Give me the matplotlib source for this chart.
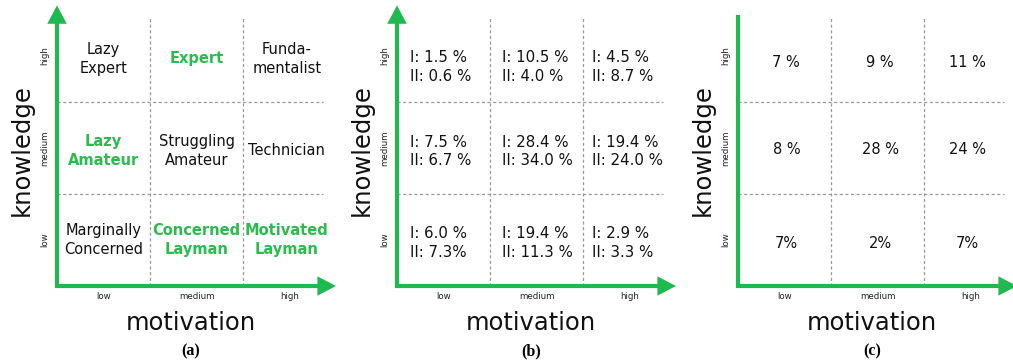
import matplotlib
matplotlib.use("Agg")
import matplotlib.pyplot as plt
from matplotlib.patches import Polygon

# levels on both axes
levels = ["low", "medium", "high"]

# (a) archetype names, rows low -> high knowledge, columns low -> high motivation
type_names = [
    ["Marginally\nConcerned", "Concerned\nLayman", "Motivated\nLayman"],
    ["Lazy\nAmateur", "Struggling\nAmateur", "Technician"],
    ["Lazy\nExpert", "Expert", "Funda-\nmentalist"],
]
type_highlight = [
    [False, True, True],
    [True, False, False],
    [False, True, False],
]

# (b) shares for study I and study II
share_I = [
    ["6.0 %", "19.4 %", "2.9 %"],
    ["7.5 %", "28.4 %", "19.4 %"],
    ["1.5 %", "10.5 %", "4.5 %"],
]
share_II = [
    ["7.3%", "11.3 %", "3.3 %"],
    ["6.7 %", "34.0 %", "24.0 %"],
    ["0.6 %", "4.0 %", "8.7 %"],
]

# (c) shares
share_c = [
    ["7%", "2%", "7%"],
    ["8 %", "28 %", "24 %"],
    ["7 %", "9 %", "11 %"],
]

GREEN = "#1fba4f"
TXT_GREEN = "#2bbb4e"
GRID = "#9a9a9a"

W, H = 1013, 364
fig = plt.figure(figsize=(W / 100, H / 100), dpi=100)


def make_axes(x0):
    # x0: pixel column of the knowledge axis; 93 px per cell across, 92 px up
    ax = fig.add_axes([x0 / W, (H - 286) / H, 279 / W, 276 / H])
    ax.set_xlim(0, 3)
    ax.set_ylim(0, 3)
    ax.axis("off")
    return ax


def draw_frame(ax, y_head=True, caption=""):
    for v in (1, 2):
        ax.plot([v, v], [0, 2.92], color=GRID, lw=0.9, ls=(0, (2.5, 2)),
                clip_on=False, zorder=1)
        ax.plot([0, 2.86], [v, v], color=GRID, lw=0.9, ls=(0, (2.5, 2)),
                clip_on=False, zorder=1)

    # motivation arrow
    ax.plot([-0.02, 2.85], [0, 0], color=GREEN, lw=3, solid_capstyle="butt",
            clip_on=False, zorder=3)
    ax.add_patch(Polygon([[2.8, 0.105], [3.0, 0], [2.8, -0.105]], closed=True,
                         fc=GREEN, ec="none", clip_on=False, zorder=3))
    # knowledge arrow
    if y_head:
        ax.plot([0, 0], [-0.02, 2.9], color=GREEN, lw=3, solid_capstyle="butt",
                clip_on=False, zorder=3)
        ax.add_patch(Polygon([[-0.105, 2.85], [0, 3.05], [0.105, 2.85]], closed=True,
                             fc=GREEN, ec="none", clip_on=False, zorder=3))
    else:
        ax.plot([0, 0], [-0.02, 2.95], color=GREEN, lw=3, solid_capstyle="butt",
                clip_on=False, zorder=3)

    for i, lev in enumerate(levels):
        ax.text(i + 0.5, -0.11, lev, ha="center", va="center", fontsize=6.2,
                color="#222222", clip_on=False)
        ax.text(-0.13, i + 0.5, lev, ha="center", va="center", fontsize=6.2,
                rotation=90, color="#222222", clip_on=False)

    ax.text(-0.38, 1.48, "knowledge", rotation=90, ha="center", va="center",
            fontsize=17.5, color="#111111", clip_on=False)
    ax.text(1.44, -0.4, "motivation", ha="center", va="center",
            fontsize=17.5, color="#111111", clip_on=False)
    ax.text(1.44, -0.71, caption, ha="center", va="center", fontsize=11.5,
            family="Liberation Serif", fontweight="bold", clip_on=False)


# (a) archetypes
ax_a = make_axes(57)
draw_frame(ax_a, caption="(a)")
row_a = [0.5, 1.47, 2.47]
col_a = [0.5, 1.5, 2.47]
for r in range(3):
    for c in range(3):
        hl = type_highlight[r][c]
        ax_a.text(col_a[c], row_a[r], type_names[r][c], ha="center", va="center",
                  fontsize=10.5, linespacing=1.3,
                  color=TXT_GREEN if hl else "#111111",
                  fontweight="bold" if hl else "normal")

# (b) shares per study
ax_b = make_axes(397)
draw_frame(ax_b, caption="(b)")
row_b = [0.47, 1.46, 2.38]
col_b = [0.14, 1.13, 2.1]
for r in range(3):
    for c in range(3):
        ax_b.text(col_b[c], row_b[r], "I: " + share_I[r][c] + "\nII: " + share_II[r][c],
                  ha="left", va="center", fontsize=10.8, linespacing=1.3,
                  color="#111111")

# (c) shares
ax_c = make_axes(738)
draw_frame(ax_c, y_head=False, caption="(c)")
row_c = [0.46, 1.48, 2.43]
col_c = [0.52, 1.53, 2.47]
for r in range(3):
    for c in range(3):
        ax_c.text(col_c[c], row_c[r], share_c[r][c], ha="center", va="center",
                  fontsize=10.5, color="#111111")

fig.savefig("out.png", dpi=100)
